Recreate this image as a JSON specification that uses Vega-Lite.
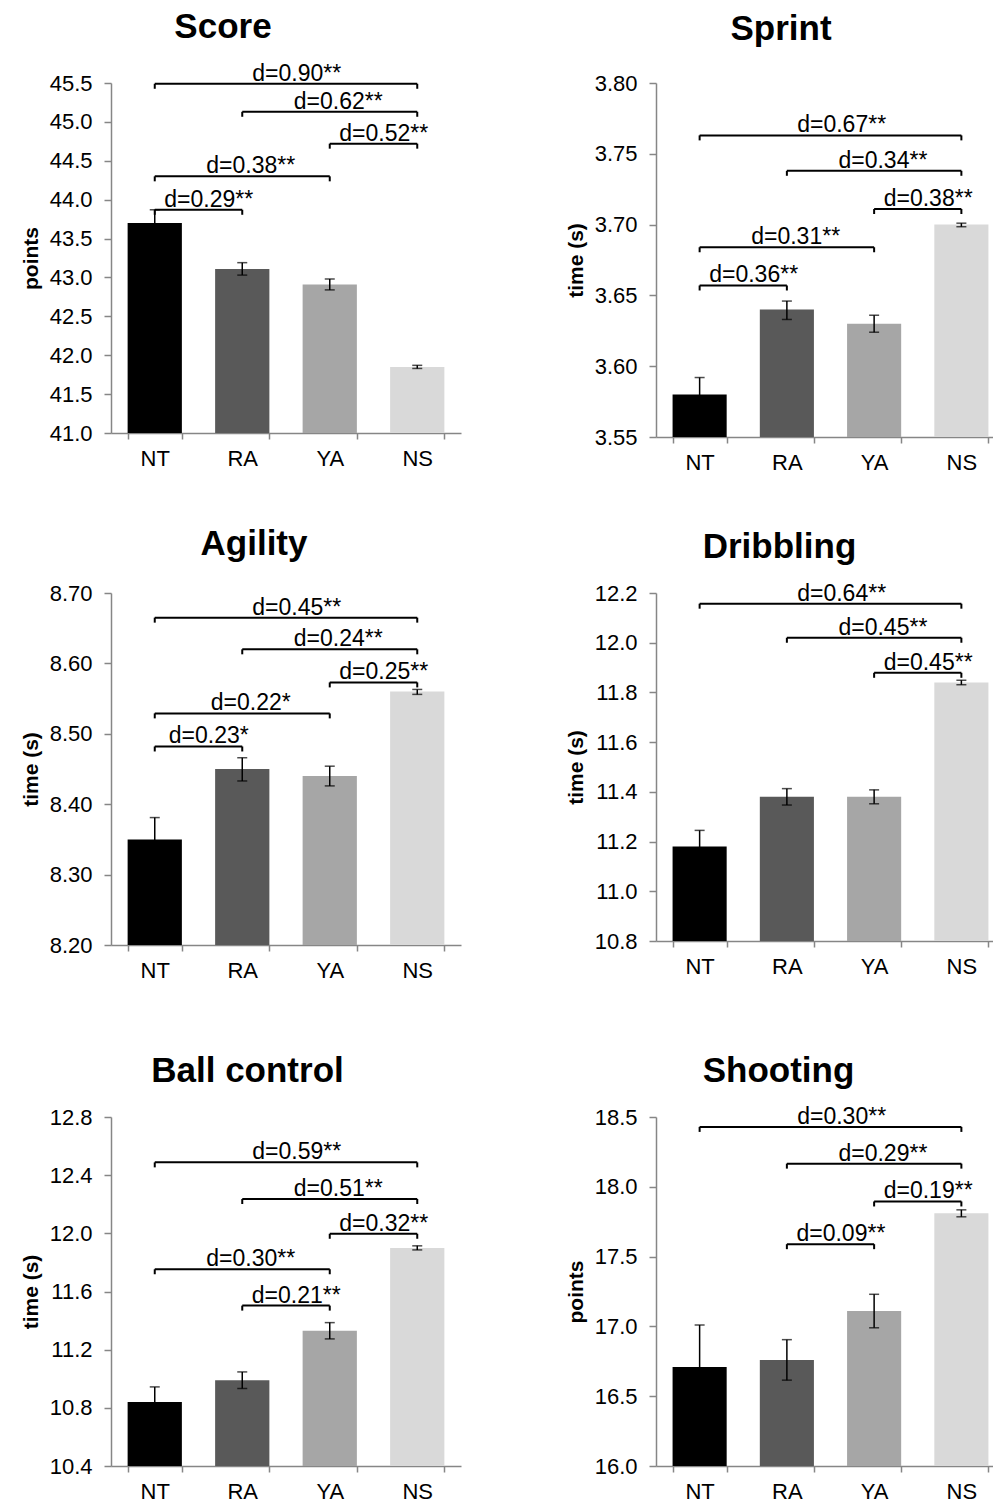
{
  "$schema": "https://vega.github.io/schema/vega-lite/v6.json",
  "padding": {"left": 20, "top": 9, "right": 0, "bottom": 0},
  "background": "white",
  "datasets": {
    "bars": [
      {"panel": "Score", "group": "NT", "mean": 43.70, "lo": 43.53, "hi": 43.87},
      {"panel": "Score", "group": "RA", "mean": 43.11, "lo": 43.03, "hi": 43.19},
      {"panel": "Score", "group": "YA", "mean": 42.91, "lo": 42.84, "hi": 42.98},
      {"panel": "Score", "group": "NS", "mean": 41.85, "lo": 41.83, "hi": 41.87},
      {"panel": "Sprint", "group": "NT", "mean": 3.580, "lo": 3.568, "hi": 3.592},
      {"panel": "Sprint", "group": "RA", "mean": 3.640, "lo": 3.633, "hi": 3.646},
      {"panel": "Sprint", "group": "YA", "mean": 3.630, "lo": 3.624, "hi": 3.636},
      {"panel": "Sprint", "group": "NS", "mean": 3.700, "lo": 3.6985, "hi": 3.701},
      {"panel": "Agility", "group": "NT", "mean": 8.35, "lo": 8.319, "hi": 8.381},
      {"panel": "Agility", "group": "RA", "mean": 8.45, "lo": 8.433, "hi": 8.466},
      {"panel": "Agility", "group": "YA", "mean": 8.44, "lo": 8.426, "hi": 8.454},
      {"panel": "Agility", "group": "NS", "mean": 8.56, "lo": 8.556, "hi": 8.563},
      {"panel": "Dribbling", "group": "NT", "mean": 11.18, "lo": 11.115, "hi": 11.245},
      {"panel": "Dribbling", "group": "RA", "mean": 11.38, "lo": 11.347, "hi": 11.413},
      {"panel": "Dribbling", "group": "YA", "mean": 11.38, "lo": 11.352, "hi": 11.408},
      {"panel": "Dribbling", "group": "NS", "mean": 11.84, "lo": 11.831, "hi": 11.849},
      {"panel": "Ball control", "group": "NT", "mean": 10.84, "lo": 10.74, "hi": 10.944},
      {"panel": "Ball control", "group": "RA", "mean": 10.99, "lo": 10.933, "hi": 11.047},
      {"panel": "Ball control", "group": "YA", "mean": 11.33, "lo": 11.274, "hi": 11.386},
      {"panel": "Ball control", "group": "NS", "mean": 11.90, "lo": 11.886, "hi": 11.914},
      {"panel": "Shooting", "group": "NT", "mean": 16.71, "lo": 16.41, "hi": 17.01},
      {"panel": "Shooting", "group": "RA", "mean": 16.76, "lo": 16.615, "hi": 16.905},
      {"panel": "Shooting", "group": "YA", "mean": 17.11, "lo": 16.99, "hi": 17.23},
      {"panel": "Shooting", "group": "NS", "mean": 17.81, "lo": 17.785, "hi": 17.835}
    ],
    "brackets": [
      {"panel": "Score", "from": "NT", "to": "NS", "level": 45.49, "label": "d=0.90**"},
      {"panel": "Score", "from": "RA", "to": "NS", "level": 45.13, "label": "d=0.62**"},
      {"panel": "Score", "from": "YA", "to": "NS", "level": 44.72, "label": "d=0.52**"},
      {"panel": "Score", "from": "NT", "to": "YA", "level": 44.30, "label": "d=0.38**"},
      {"panel": "Score", "from": "NT", "to": "RA", "level": 43.87, "label": "d=0.29**"},
      {"panel": "Sprint", "from": "NT", "to": "NS", "level": 3.763, "label": "d=0.67**"},
      {"panel": "Sprint", "from": "RA", "to": "NS", "level": 3.738, "label": "d=0.34**"},
      {"panel": "Sprint", "from": "YA", "to": "NS", "level": 3.711, "label": "d=0.38**"},
      {"panel": "Sprint", "from": "NT", "to": "YA", "level": 3.684, "label": "d=0.31**"},
      {"panel": "Sprint", "from": "NT", "to": "RA", "level": 3.657, "label": "d=0.36**"},
      {"panel": "Agility", "from": "NT", "to": "NS", "level": 8.665, "label": "d=0.45**"},
      {"panel": "Agility", "from": "RA", "to": "NS", "level": 8.620, "label": "d=0.24**"},
      {"panel": "Agility", "from": "YA", "to": "NS", "level": 8.573, "label": "d=0.25**"},
      {"panel": "Agility", "from": "NT", "to": "YA", "level": 8.529, "label": "d=0.22*"},
      {"panel": "Agility", "from": "NT", "to": "RA", "level": 8.482, "label": "d=0.23*"},
      {"panel": "Dribbling", "from": "NT", "to": "NS", "level": 12.157, "label": "d=0.64**"},
      {"panel": "Dribbling", "from": "RA", "to": "NS", "level": 12.020, "label": "d=0.45**"},
      {"panel": "Dribbling", "from": "YA", "to": "NS", "level": 11.879, "label": "d=0.45**"},
      {"panel": "Ball control", "from": "NT", "to": "NS", "level": 12.488, "label": "d=0.59**"},
      {"panel": "Ball control", "from": "RA", "to": "NS", "level": 12.236, "label": "d=0.51**"},
      {"panel": "Ball control", "from": "YA", "to": "NS", "level": 11.997, "label": "d=0.32**"},
      {"panel": "Ball control", "from": "NT", "to": "YA", "level": 11.753, "label": "d=0.30**"},
      {"panel": "Ball control", "from": "RA", "to": "YA", "level": 11.503, "label": "d=0.21**"},
      {"panel": "Shooting", "from": "NT", "to": "NS", "level": 18.429, "label": "d=0.30**"},
      {"panel": "Shooting", "from": "RA", "to": "NS", "level": 18.166, "label": "d=0.29**"},
      {"panel": "Shooting", "from": "YA", "to": "NS", "level": 17.895, "label": "d=0.19**"},
      {"panel": "Shooting", "from": "RA", "to": "YA", "level": 17.589, "label": "d=0.09**"}
    ]
  },
  "vconcat": [
    {
      "vconcat": [
        {
          "hconcat": [
            {
              "title": {"text": "Score", "dx": -63, "offset": 18},
              "width": 350, "height": 350,
              "layer": [
                {"data": {"name": "bars"}, "transform": [{"filter": "datum.panel === 'Score'"}],
                 "mark": "bar",
                 "encoding": {
                   "x": {"field": "group", "type": "nominal", "scale": {"domain": ["NT", "RA", "YA", "NS"]}, "axis": {"title": null}},
                   "y": {"field": "mean", "type": "quantitative", "scale": {"domain": [41, 45.5], "zero": false, "nice": false}, "axis": {"title": "points", "values": [41, 41.5, 42, 42.5, 43, 43.5, 44, 44.5, 45, 45.5], "format": ".1f", "labelOverlap": false, "labelSeparation": -20, "labelBound": false, "tickCount": 10}},
                   "y2": {"datum": 41},
                   "color": {"field": "group", "type": "nominal", "scale": {"domain": ["NT", "RA", "YA", "NS"], "range": ["#000000", "#595959", "#a6a6a6", "#d9d9d9"]}, "legend": null}
                 }},
                {"data": {"name": "bars"}, "transform": [{"filter": "datum.panel === 'Score'"}],
                 "mark": {"type": "errorbar", "color": "black", "ticks": {"size": 10, "thickness": 1.5}, "rule": {"strokeWidth": 1.5}},
                 "encoding": {"x": {"field": "group", "type": "nominal"}, "y": {"field": "lo", "type": "quantitative", "title": "points"}, "y2": {"field": "hi"}}},
                {"data": {"name": "brackets"}, "transform": [{"filter": "datum.panel === 'Score'"}],
                 "mark": {"type": "rule", "color": "black", "strokeWidth": 2},
                 "encoding": {"x": {"field": "from", "type": "nominal", "bandPosition": 0.5}, "x2": {"field": "to", "bandPosition": 0.5}, "y": {"field": "level", "type": "quantitative"}}},
                {"data": {"name": "brackets"}, "transform": [{"filter": "datum.panel === 'Score'"}, {"fold": ["from", "to"], "as": ["end", "cat"]}],
                 "mark": {"type": "rule", "color": "black", "strokeWidth": 2, "y2Offset": 5},
                 "encoding": {"x": {"field": "cat", "type": "nominal", "bandPosition": 0.5}, "y": {"field": "level", "type": "quantitative"}, "y2": {"field": "level"}}},
                {"data": {"name": "brackets"}, "transform": [{"filter": "datum.panel === 'Score'"}, {"filter": "indexof(['NT','RA','YA','NS'], datum.to) - indexof(['NT','RA','YA','NS'], datum.from) == 1"}],
                 "mark": {"type": "text", "fontSize": 23, "baseline": "alphabetic", "align": "center", "dy": -3, "dx": 54, "color": "black"},
                 "encoding": {"x": {"field": "from", "type": "nominal", "bandPosition": 0.5}, "y": {"field": "level", "type": "quantitative"}, "text": {"field": "label"}}},
                {"data": {"name": "brackets"}, "transform": [{"filter": "datum.panel === 'Score'"}, {"filter": "indexof(['NT','RA','YA','NS'], datum.to) - indexof(['NT','RA','YA','NS'], datum.from) == 2"}],
                 "mark": {"type": "text", "fontSize": 23, "baseline": "alphabetic", "align": "center", "dy": -3, "dx": 96, "color": "black"},
                 "encoding": {"x": {"field": "from", "type": "nominal", "bandPosition": 0.5}, "y": {"field": "level", "type": "quantitative"}, "text": {"field": "label"}}},
                {"data": {"name": "brackets"}, "transform": [{"filter": "datum.panel === 'Score'"}, {"filter": "indexof(['NT','RA','YA','NS'], datum.to) - indexof(['NT','RA','YA','NS'], datum.from) == 3"}],
                 "mark": {"type": "text", "fontSize": 23, "baseline": "alphabetic", "align": "center", "dy": -3, "dx": 142, "color": "black"},
                 "encoding": {"x": {"field": "from", "type": "nominal", "bandPosition": 0.5}, "y": {"field": "level", "type": "quantitative"}, "text": {"field": "label"}}}
              ]
            },
            {
              "title": {"text": "Sprint", "dx": -49.5, "offset": 25},
              "width": 349, "height": 354,
              "layer": [
                {"data": {"name": "bars"}, "transform": [{"filter": "datum.panel === 'Sprint'"}],
                 "mark": "bar",
                 "encoding": {
                   "x": {"field": "group", "type": "nominal", "scale": {"domain": ["NT", "RA", "YA", "NS"]}, "axis": {"title": null}},
                   "y": {"field": "mean", "type": "quantitative", "scale": {"domain": [3.55, 3.8], "zero": false, "nice": false}, "axis": {"title": "time (s)", "values": [3.55, 3.6, 3.65, 3.7, 3.75, 3.8], "format": ".2f", "labelOverlap": false, "labelBound": false}},
                   "y2": {"datum": 3.55},
                   "color": {"field": "group", "type": "nominal", "scale": {"domain": ["NT", "RA", "YA", "NS"], "range": ["#000000", "#595959", "#a6a6a6", "#d9d9d9"]}, "legend": null}
                 }},
                {"data": {"name": "bars"}, "transform": [{"filter": "datum.panel === 'Sprint'"}],
                 "mark": {"type": "errorbar", "color": "black", "ticks": {"size": 10, "thickness": 1.5}, "rule": {"strokeWidth": 1.5}},
                 "encoding": {"x": {"field": "group", "type": "nominal"}, "y": {"field": "lo", "type": "quantitative", "title": "time (s)"}, "y2": {"field": "hi"}}},
                {"data": {"name": "brackets"}, "transform": [{"filter": "datum.panel === 'Sprint'"}],
                 "mark": {"type": "rule", "color": "black", "strokeWidth": 2},
                 "encoding": {"x": {"field": "from", "type": "nominal", "bandPosition": 0.5}, "x2": {"field": "to", "bandPosition": 0.5}, "y": {"field": "level", "type": "quantitative"}}},
                {"data": {"name": "brackets"}, "transform": [{"filter": "datum.panel === 'Sprint'"}, {"fold": ["from", "to"], "as": ["end", "cat"]}],
                 "mark": {"type": "rule", "color": "black", "strokeWidth": 2, "y2Offset": 5},
                 "encoding": {"x": {"field": "cat", "type": "nominal", "bandPosition": 0.5}, "y": {"field": "level", "type": "quantitative"}, "y2": {"field": "level"}}},
                {"data": {"name": "brackets"}, "transform": [{"filter": "datum.panel === 'Sprint'"}, {"filter": "indexof(['NT','RA','YA','NS'], datum.to) - indexof(['NT','RA','YA','NS'], datum.from) == 1"}],
                 "mark": {"type": "text", "fontSize": 23, "baseline": "alphabetic", "align": "center", "dy": -3, "dx": 54, "color": "black"},
                 "encoding": {"x": {"field": "from", "type": "nominal", "bandPosition": 0.5}, "y": {"field": "level", "type": "quantitative"}, "text": {"field": "label"}}},
                {"data": {"name": "brackets"}, "transform": [{"filter": "datum.panel === 'Sprint'"}, {"filter": "indexof(['NT','RA','YA','NS'], datum.to) - indexof(['NT','RA','YA','NS'], datum.from) == 2"}],
                 "mark": {"type": "text", "fontSize": 23, "baseline": "alphabetic", "align": "center", "dy": -3, "dx": 96, "color": "black"},
                 "encoding": {"x": {"field": "from", "type": "nominal", "bandPosition": 0.5}, "y": {"field": "level", "type": "quantitative"}, "text": {"field": "label"}}},
                {"data": {"name": "brackets"}, "transform": [{"filter": "datum.panel === 'Sprint'"}, {"filter": "indexof(['NT','RA','YA','NS'], datum.to) - indexof(['NT','RA','YA','NS'], datum.from) == 3"}],
                 "mark": {"type": "text", "fontSize": 23, "baseline": "alphabetic", "align": "center", "dy": -3, "dx": 142, "color": "black"},
                 "encoding": {"x": {"field": "from", "type": "nominal", "bandPosition": 0.5}, "y": {"field": "level", "type": "quantitative"}, "text": {"field": "label"}}}
              ]
            }
          ],
          "spacing": 104
        },
        {
          "hconcat": [
            {
              "title": {"text": "Agility", "dx": -32, "offset": 20},
              "width": 350, "height": 352,
              "layer": [
                {"data": {"name": "bars"}, "transform": [{"filter": "datum.panel === 'Agility'"}],
                 "mark": "bar",
                 "encoding": {
                   "x": {"field": "group", "type": "nominal", "scale": {"domain": ["NT", "RA", "YA", "NS"]}, "axis": {"title": null}},
                   "y": {"field": "mean", "type": "quantitative", "scale": {"domain": [8.2, 8.7], "zero": false, "nice": false}, "axis": {"title": "time (s)", "values": [8.2, 8.3, 8.4, 8.5, 8.6, 8.7], "format": ".2f", "labelOverlap": false, "labelBound": false}},
                   "y2": {"datum": 8.2},
                   "color": {"field": "group", "type": "nominal", "scale": {"domain": ["NT", "RA", "YA", "NS"], "range": ["#000000", "#595959", "#a6a6a6", "#d9d9d9"]}, "legend": null}
                 }},
                {"data": {"name": "bars"}, "transform": [{"filter": "datum.panel === 'Agility'"}],
                 "mark": {"type": "errorbar", "color": "black", "ticks": {"size": 10, "thickness": 1.5}, "rule": {"strokeWidth": 1.5}},
                 "encoding": {"x": {"field": "group", "type": "nominal"}, "y": {"field": "lo", "type": "quantitative", "title": "time (s)"}, "y2": {"field": "hi"}}},
                {"data": {"name": "brackets"}, "transform": [{"filter": "datum.panel === 'Agility'"}],
                 "mark": {"type": "rule", "color": "black", "strokeWidth": 2},
                 "encoding": {"x": {"field": "from", "type": "nominal", "bandPosition": 0.5}, "x2": {"field": "to", "bandPosition": 0.5}, "y": {"field": "level", "type": "quantitative"}}},
                {"data": {"name": "brackets"}, "transform": [{"filter": "datum.panel === 'Agility'"}, {"fold": ["from", "to"], "as": ["end", "cat"]}],
                 "mark": {"type": "rule", "color": "black", "strokeWidth": 2, "y2Offset": 5},
                 "encoding": {"x": {"field": "cat", "type": "nominal", "bandPosition": 0.5}, "y": {"field": "level", "type": "quantitative"}, "y2": {"field": "level"}}},
                {"data": {"name": "brackets"}, "transform": [{"filter": "datum.panel === 'Agility'"}, {"filter": "indexof(['NT','RA','YA','NS'], datum.to) - indexof(['NT','RA','YA','NS'], datum.from) == 1"}],
                 "mark": {"type": "text", "fontSize": 23, "baseline": "alphabetic", "align": "center", "dy": -3, "dx": 54, "color": "black"},
                 "encoding": {"x": {"field": "from", "type": "nominal", "bandPosition": 0.5}, "y": {"field": "level", "type": "quantitative"}, "text": {"field": "label"}}},
                {"data": {"name": "brackets"}, "transform": [{"filter": "datum.panel === 'Agility'"}, {"filter": "indexof(['NT','RA','YA','NS'], datum.to) - indexof(['NT','RA','YA','NS'], datum.from) == 2"}],
                 "mark": {"type": "text", "fontSize": 23, "baseline": "alphabetic", "align": "center", "dy": -3, "dx": 96, "color": "black"},
                 "encoding": {"x": {"field": "from", "type": "nominal", "bandPosition": 0.5}, "y": {"field": "level", "type": "quantitative"}, "text": {"field": "label"}}},
                {"data": {"name": "brackets"}, "transform": [{"filter": "datum.panel === 'Agility'"}, {"filter": "indexof(['NT','RA','YA','NS'], datum.to) - indexof(['NT','RA','YA','NS'], datum.from) == 3"}],
                 "mark": {"type": "text", "fontSize": 23, "baseline": "alphabetic", "align": "center", "dy": -3, "dx": 142, "color": "black"},
                 "encoding": {"x": {"field": "from", "type": "nominal", "bandPosition": 0.5}, "y": {"field": "level", "type": "quantitative"}, "text": {"field": "label"}}}
              ]
            },
            {
              "title": {"text": "Dribbling", "dx": -51, "offset": 17},
              "width": 349, "height": 348,
              "layer": [
                {"data": {"name": "bars"}, "transform": [{"filter": "datum.panel === 'Dribbling'"}],
                 "mark": "bar",
                 "encoding": {
                   "x": {"field": "group", "type": "nominal", "scale": {"domain": ["NT", "RA", "YA", "NS"]}, "axis": {"title": null}},
                   "y": {"field": "mean", "type": "quantitative", "scale": {"domain": [10.8, 12.2], "zero": false, "nice": false}, "axis": {"title": "time (s)", "values": [10.8, 11.0, 11.2, 11.4, 11.6, 11.8, 12.0, 12.2], "format": ".1f", "labelOverlap": false, "labelBound": false}},
                   "y2": {"datum": 10.8},
                   "color": {"field": "group", "type": "nominal", "scale": {"domain": ["NT", "RA", "YA", "NS"], "range": ["#000000", "#595959", "#a6a6a6", "#d9d9d9"]}, "legend": null}
                 }},
                {"data": {"name": "bars"}, "transform": [{"filter": "datum.panel === 'Dribbling'"}],
                 "mark": {"type": "errorbar", "color": "black", "ticks": {"size": 10, "thickness": 1.5}, "rule": {"strokeWidth": 1.5}},
                 "encoding": {"x": {"field": "group", "type": "nominal"}, "y": {"field": "lo", "type": "quantitative", "title": "time (s)"}, "y2": {"field": "hi"}}},
                {"data": {"name": "brackets"}, "transform": [{"filter": "datum.panel === 'Dribbling'"}],
                 "mark": {"type": "rule", "color": "black", "strokeWidth": 2},
                 "encoding": {"x": {"field": "from", "type": "nominal", "bandPosition": 0.5}, "x2": {"field": "to", "bandPosition": 0.5}, "y": {"field": "level", "type": "quantitative"}}},
                {"data": {"name": "brackets"}, "transform": [{"filter": "datum.panel === 'Dribbling'"}, {"fold": ["from", "to"], "as": ["end", "cat"]}],
                 "mark": {"type": "rule", "color": "black", "strokeWidth": 2, "y2Offset": 5},
                 "encoding": {"x": {"field": "cat", "type": "nominal", "bandPosition": 0.5}, "y": {"field": "level", "type": "quantitative"}, "y2": {"field": "level"}}},
                {"data": {"name": "brackets"}, "transform": [{"filter": "datum.panel === 'Dribbling'"}, {"filter": "indexof(['NT','RA','YA','NS'], datum.to) - indexof(['NT','RA','YA','NS'], datum.from) == 1"}],
                 "mark": {"type": "text", "fontSize": 23, "baseline": "alphabetic", "align": "center", "dy": -3, "dx": 54, "color": "black"},
                 "encoding": {"x": {"field": "from", "type": "nominal", "bandPosition": 0.5}, "y": {"field": "level", "type": "quantitative"}, "text": {"field": "label"}}},
                {"data": {"name": "brackets"}, "transform": [{"filter": "datum.panel === 'Dribbling'"}, {"filter": "indexof(['NT','RA','YA','NS'], datum.to) - indexof(['NT','RA','YA','NS'], datum.from) == 2"}],
                 "mark": {"type": "text", "fontSize": 23, "baseline": "alphabetic", "align": "center", "dy": -3, "dx": 96, "color": "black"},
                 "encoding": {"x": {"field": "from", "type": "nominal", "bandPosition": 0.5}, "y": {"field": "level", "type": "quantitative"}, "text": {"field": "label"}}},
                {"data": {"name": "brackets"}, "transform": [{"filter": "datum.panel === 'Dribbling'"}, {"filter": "indexof(['NT','RA','YA','NS'], datum.to) - indexof(['NT','RA','YA','NS'], datum.from) == 3"}],
                 "mark": {"type": "text", "fontSize": 23, "baseline": "alphabetic", "align": "center", "dy": -3, "dx": 142, "color": "black"},
                 "encoding": {"x": {"field": "from", "type": "nominal", "bandPosition": 0.5}, "y": {"field": "level", "type": "quantitative"}, "text": {"field": "label"}}}
              ]
            }
          ],
          "spacing": 104
        }
      ],
      "spacing": 54
    },
    {
      "hconcat": [
        {
          "title": {"text": "Ball control", "dx": -38.5, "offset": 17},
          "width": 350, "height": 349,
          "layer": [
            {"data": {"name": "bars"}, "transform": [{"filter": "datum.panel === 'Ball control'"}],
             "mark": "bar",
             "encoding": {
               "x": {"field": "group", "type": "nominal", "scale": {"domain": ["NT", "RA", "YA", "NS"]}, "axis": {"title": null}},
               "y": {"field": "mean", "type": "quantitative", "scale": {"domain": [10.4, 12.8], "zero": false, "nice": false}, "axis": {"title": "time (s)", "values": [10.4, 10.8, 11.2, 11.6, 12.0, 12.4, 12.8], "format": ".1f", "labelOverlap": false, "labelBound": false}},
               "y2": {"datum": 10.4},
               "color": {"field": "group", "type": "nominal", "scale": {"domain": ["NT", "RA", "YA", "NS"], "range": ["#000000", "#595959", "#a6a6a6", "#d9d9d9"]}, "legend": null}
             }},
            {"data": {"name": "bars"}, "transform": [{"filter": "datum.panel === 'Ball control'"}],
             "mark": {"type": "errorbar", "color": "black", "ticks": {"size": 10, "thickness": 1.5}, "rule": {"strokeWidth": 1.5}},
             "encoding": {"x": {"field": "group", "type": "nominal"}, "y": {"field": "lo", "type": "quantitative", "title": "time (s)"}, "y2": {"field": "hi"}}},
            {"data": {"name": "brackets"}, "transform": [{"filter": "datum.panel === 'Ball control'"}],
             "mark": {"type": "rule", "color": "black", "strokeWidth": 2},
             "encoding": {"x": {"field": "from", "type": "nominal", "bandPosition": 0.5}, "x2": {"field": "to", "bandPosition": 0.5}, "y": {"field": "level", "type": "quantitative"}}},
            {"data": {"name": "brackets"}, "transform": [{"filter": "datum.panel === 'Ball control'"}, {"fold": ["from", "to"], "as": ["end", "cat"]}],
             "mark": {"type": "rule", "color": "black", "strokeWidth": 2, "y2Offset": 5},
             "encoding": {"x": {"field": "cat", "type": "nominal", "bandPosition": 0.5}, "y": {"field": "level", "type": "quantitative"}, "y2": {"field": "level"}}},
            {"data": {"name": "brackets"}, "transform": [{"filter": "datum.panel === 'Ball control'"}, {"filter": "indexof(['NT','RA','YA','NS'], datum.to) - indexof(['NT','RA','YA','NS'], datum.from) == 1"}],
             "mark": {"type": "text", "fontSize": 23, "baseline": "alphabetic", "align": "center", "dy": -3, "dx": 54, "color": "black"},
             "encoding": {"x": {"field": "from", "type": "nominal", "bandPosition": 0.5}, "y": {"field": "level", "type": "quantitative"}, "text": {"field": "label"}}},
            {"data": {"name": "brackets"}, "transform": [{"filter": "datum.panel === 'Ball control'"}, {"filter": "indexof(['NT','RA','YA','NS'], datum.to) - indexof(['NT','RA','YA','NS'], datum.from) == 2"}],
             "mark": {"type": "text", "fontSize": 23, "baseline": "alphabetic", "align": "center", "dy": -3, "dx": 96, "color": "black"},
             "encoding": {"x": {"field": "from", "type": "nominal", "bandPosition": 0.5}, "y": {"field": "level", "type": "quantitative"}, "text": {"field": "label"}}},
            {"data": {"name": "brackets"}, "transform": [{"filter": "datum.panel === 'Ball control'"}, {"filter": "indexof(['NT','RA','YA','NS'], datum.to) - indexof(['NT','RA','YA','NS'], datum.from) == 3"}],
             "mark": {"type": "text", "fontSize": 23, "baseline": "alphabetic", "align": "center", "dy": -3, "dx": 142, "color": "black"},
             "encoding": {"x": {"field": "from", "type": "nominal", "bandPosition": 0.5}, "y": {"field": "level", "type": "quantitative"}, "text": {"field": "label"}}}
          ]
        },
        {
          "title": {"text": "Shooting", "dx": -52, "offset": 17},
          "width": 349, "height": 349,
          "layer": [
            {"data": {"name": "bars"}, "transform": [{"filter": "datum.panel === 'Shooting'"}],
             "mark": "bar",
             "encoding": {
               "x": {"field": "group", "type": "nominal", "scale": {"domain": ["NT", "RA", "YA", "NS"]}, "axis": {"title": null}},
               "y": {"field": "mean", "type": "quantitative", "scale": {"domain": [16, 18.5], "zero": false, "nice": false}, "axis": {"title": "points", "values": [16, 16.5, 17, 17.5, 18, 18.5], "format": ".1f", "labelOverlap": false, "labelBound": false}},
               "y2": {"datum": 16},
               "color": {"field": "group", "type": "nominal", "scale": {"domain": ["NT", "RA", "YA", "NS"], "range": ["#000000", "#595959", "#a6a6a6", "#d9d9d9"]}, "legend": null}
             }},
            {"data": {"name": "bars"}, "transform": [{"filter": "datum.panel === 'Shooting'"}],
             "mark": {"type": "errorbar", "color": "black", "ticks": {"size": 10, "thickness": 1.5}, "rule": {"strokeWidth": 1.5}},
             "encoding": {"x": {"field": "group", "type": "nominal"}, "y": {"field": "lo", "type": "quantitative", "title": "points"}, "y2": {"field": "hi"}}},
            {"data": {"name": "brackets"}, "transform": [{"filter": "datum.panel === 'Shooting'"}],
             "mark": {"type": "rule", "color": "black", "strokeWidth": 2},
             "encoding": {"x": {"field": "from", "type": "nominal", "bandPosition": 0.5}, "x2": {"field": "to", "bandPosition": 0.5}, "y": {"field": "level", "type": "quantitative"}}},
            {"data": {"name": "brackets"}, "transform": [{"filter": "datum.panel === 'Shooting'"}, {"fold": ["from", "to"], "as": ["end", "cat"]}],
             "mark": {"type": "rule", "color": "black", "strokeWidth": 2, "y2Offset": 5},
             "encoding": {"x": {"field": "cat", "type": "nominal", "bandPosition": 0.5}, "y": {"field": "level", "type": "quantitative"}, "y2": {"field": "level"}}},
            {"data": {"name": "brackets"}, "transform": [{"filter": "datum.panel === 'Shooting'"}, {"filter": "indexof(['NT','RA','YA','NS'], datum.to) - indexof(['NT','RA','YA','NS'], datum.from) == 1"}],
             "mark": {"type": "text", "fontSize": 23, "baseline": "alphabetic", "align": "center", "dy": -3, "dx": 54, "color": "black"},
             "encoding": {"x": {"field": "from", "type": "nominal", "bandPosition": 0.5}, "y": {"field": "level", "type": "quantitative"}, "text": {"field": "label"}}},
            {"data": {"name": "brackets"}, "transform": [{"filter": "datum.panel === 'Shooting'"}, {"filter": "indexof(['NT','RA','YA','NS'], datum.to) - indexof(['NT','RA','YA','NS'], datum.from) == 2"}],
             "mark": {"type": "text", "fontSize": 23, "baseline": "alphabetic", "align": "center", "dy": -3, "dx": 96, "color": "black"},
             "encoding": {"x": {"field": "from", "type": "nominal", "bandPosition": 0.5}, "y": {"field": "level", "type": "quantitative"}, "text": {"field": "label"}}},
            {"data": {"name": "brackets"}, "transform": [{"filter": "datum.panel === 'Shooting'"}, {"filter": "indexof(['NT','RA','YA','NS'], datum.to) - indexof(['NT','RA','YA','NS'], datum.from) == 3"}],
             "mark": {"type": "text", "fontSize": 23, "baseline": "alphabetic", "align": "center", "dy": -3, "dx": 142, "color": "black"},
             "encoding": {"x": {"field": "from", "type": "nominal", "bandPosition": 0.5}, "y": {"field": "level", "type": "quantitative"}, "text": {"field": "label"}}}
          ]
        }
      ],
      "spacing": 104
    }
  ],
  "spacing": 72,
  "config": {
    "font": "Liberation Sans",
    "view": {"stroke": null},
    "axis": {
      "domainColor": "#868686", "tickColor": "#868686", "domainWidth": 1.5, "tickWidth": 1.5,
      "labelColor": "#000000", "labelFont": "Liberation Sans", "labelFontSize": 22,
      "grid": false, "titleFont": "Liberation Sans", "titleFontSize": 21, "titleFontWeight": "bold", "titleColor": "#000000"
    },
    "axisX": {"tickSize": 6, "labelPadding": 9, "tickBand": "extent", "labelAngle": 0},
    "axisY": {"tickSize": 7, "labelPadding": 12, "titlePadding": 8, "labelOverlap": false, "labelBound": false},
    "scale": {"bandPaddingInner": 0.38, "bandPaddingOuter": 0.19},
    "title": {"font": "Liberation Sans", "fontSize": 35, "fontWeight": "bold", "color": "#000000", "anchor": "middle", "frame": "group", "baseline": "alphabetic"}
  }
}
